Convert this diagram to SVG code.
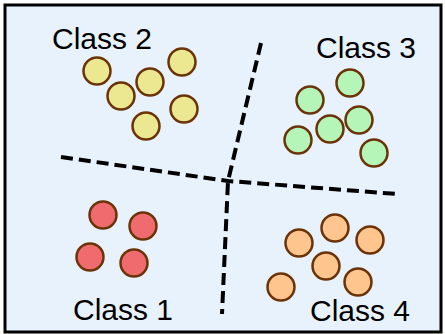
<svg xmlns="http://www.w3.org/2000/svg" width="445" height="334" viewBox="0 0 445 334">
  <style>
    .frame { fill: #e8f2fc; stroke: #000; stroke-width: 3; }
    .pt { stroke: #6b3408; stroke-width: 2.5; }
    .c1 { fill: #f06b6d; }
    .c2 { fill: #ebe891; }
    .c3 { fill: #b5f5b8; }
    .c4 { fill: #ffc58f; }
    .label { font-family: "Liberation Sans", Arial, sans-serif; font-size: 30px; fill: #000; }
    .boundary { fill: none; stroke: #000; stroke-width: 4; stroke-dasharray: 12 6; }
  </style>

  <rect class="frame" x="5" y="5" width="436" height="327"/>

  <!-- decision boundaries -->
  <g id="connectors">
    <path class="boundary" d="M61 157 L228 181 L397 194"/>
    <path class="boundary" d="M261 43 L228 181 L222 314"/>
  </g>

  <g id="class2">
    <text class="label" x="52" y="49">Class 2</text>
    <circle class="pt c2" cx="97" cy="71" r="13.5"/>
    <circle class="pt c2" cx="121" cy="96" r="13.5"/>
    <circle class="pt c2" cx="150" cy="82" r="13.5"/>
    <circle class="pt c2" cx="182" cy="62" r="13.5"/>
    <circle class="pt c2" cx="184" cy="109" r="13.5"/>
    <circle class="pt c2" cx="146" cy="126" r="13.5"/>
  </g>

  <g id="class3">
    <text class="label" x="316" y="58">Class 3</text>
    <circle class="pt c3" cx="350" cy="83" r="13.5"/>
    <circle class="pt c3" cx="310" cy="100" r="13.5"/>
    <circle class="pt c3" cx="359" cy="120" r="13.5"/>
    <circle class="pt c3" cx="330" cy="129" r="13.5"/>
    <circle class="pt c3" cx="298" cy="140" r="13.5"/>
    <circle class="pt c3" cx="374" cy="153" r="13.5"/>
  </g>

  <g id="class1">
    <text class="label" x="73" y="320">Class 1</text>
    <circle class="pt c1" cx="103" cy="215" r="13.5"/>
    <circle class="pt c1" cx="143" cy="226" r="13.5"/>
    <circle class="pt c1" cx="90" cy="257" r="13.5"/>
    <circle class="pt c1" cx="134" cy="263" r="13.5"/>
  </g>

  <g id="class4">
    <text class="label" x="310" y="321">Class 4</text>
    <circle class="pt c4" cx="335" cy="228" r="13.5"/>
    <circle class="pt c4" cx="299" cy="243" r="13.5"/>
    <circle class="pt c4" cx="370" cy="240" r="13.5"/>
    <circle class="pt c4" cx="326" cy="266" r="13.5"/>
    <circle class="pt c4" cx="358" cy="282" r="13.5"/>
    <circle class="pt c4" cx="281" cy="287" r="13.5"/>
  </g>
</svg>
